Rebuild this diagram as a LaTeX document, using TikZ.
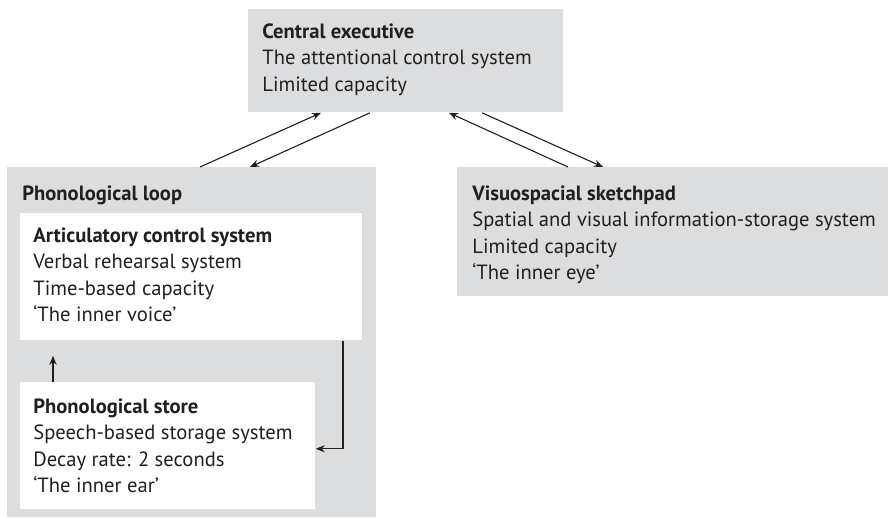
\documentclass[tikz,border=0pt]{standalone}
\usepackage{fontspec}
\setmainfont{PT Sans}
\usepackage{xcolor}
\usepackage{tikz}
\usetikzlibrary{arrows.meta,positioning,calc}

\definecolor{panelgray}{RGB}{220,221,223}
\definecolor{inkgray}{RGB}{35,31,32}
\newcommand{\boxfont}{\fontsize{10.3}{13.25}\selectfont}

\begin{document}
\begin{tikzpicture}[
    x=0.5pt, y=-0.5pt,
    font=\boxfont,
    panel/.style={fill=panelgray, inner sep=0pt, anchor=north west},
    inset/.style={fill=white, inner sep=0pt, anchor=north west},
    label/.style={anchor=north west, align=left, inner sep=0pt, text=inkgray},
    arrow/.style={-{Stealth[length=4.5pt,width=3.6pt]}, line width=0.55pt, draw=inkgray}
]
\useasboundingbox (0,0) rectangle (891,518);

% grey panels
\node[panel, minimum width=157.5pt, minimum height=51.5pt] (ce) at (248,9) {};
\node[panel, minimum width=184.5pt, minimum height=175pt] (pl) at (7,167) {};
\node[panel, minimum width=215.5pt, minimum height=64.5pt] (vs) at (457,167) {};

% white boxes inside the loop
\node[inset, minimum width=171pt, minimum height=63.5pt] (acs) at (20,213) {};
\node[inset, minimum width=147.5pt, minimum height=63.5pt] (ps) at (20,382) {};

% texts
\node[label] (ce-text) at ($(ce.north west)+(14,14)$)
    {\textbf{Central executive}\\The attentional control system\\Limited capacity};
\node[label] (pl-text) at ($(pl.north west)+(15,18)$) {\textbf{Phonological loop}};
\node[label] (vs-text) at ($(vs.north west)+(15,18)$)
    {\textbf{Visuospacial sketchpad}\\Spatial and visual information-storage system\\Limited capacity\\`The inner eye'};
\node[label] (acs-text) at ($(acs.north west)+(13,14)$)
    {\textbf{Articulatory control system}\\Verbal rehearsal system\\Time-based capacity\\`The inner voice'};
\node[label] (ps-text) at ($(ps.north west)+(13,16)$)
    {\textbf{Phonological store}\\Speech-based storage system\\Decay rate: 2 seconds\\`The inner ear'};

% central executive <-> slave systems
\draw[arrow] ($(pl.north west)+(193,0)$) -- ($(ce.south west)+(73,0)$);
\draw[arrow] ($(ce.south west)+(122,0)$) -- ($(pl.north west)+(243,0)$);
\draw[arrow] ($(vs.north west)+(111,0)$) -- ($(ce.south west)+(201,0)$);
\draw[arrow] ($(ce.south west)+(234,0)$) -- ($(vs.north west)+(146,0)$);

% inside the loop
\draw[arrow, shorten >=7.5pt] ($(ps.north west)+(33,0)$) -- ($(acs.south west)+(33,0)$);
\draw[arrow] ($(acs.south west)+(323,0)$) |- ($(ps.south east)+(0,-61)$);
\end{tikzpicture}
\end{document}
